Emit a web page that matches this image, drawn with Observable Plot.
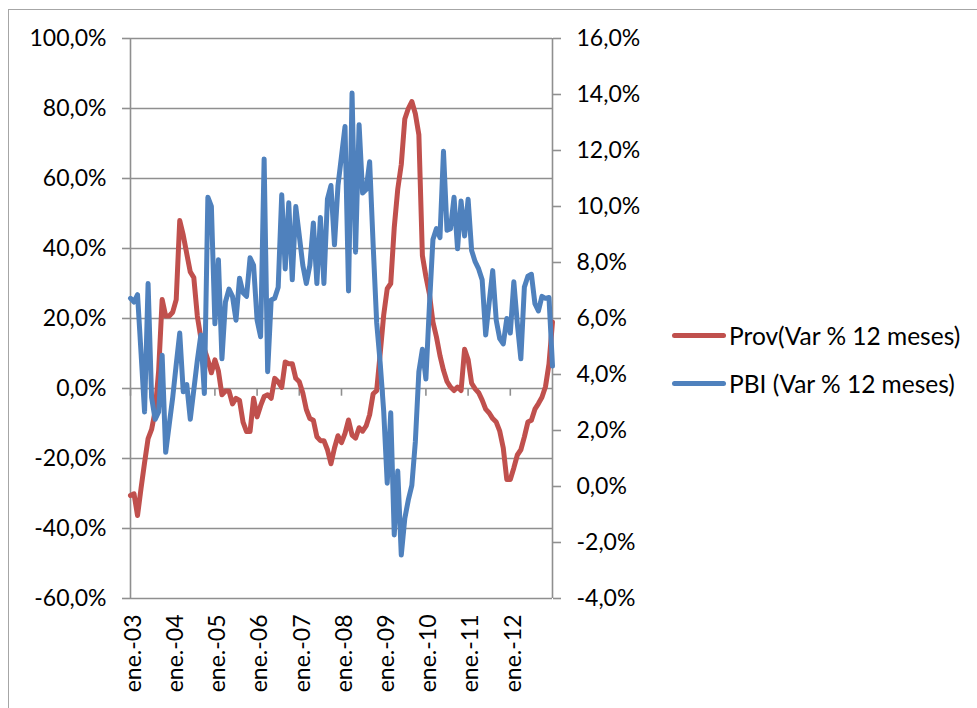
<!DOCTYPE html>
<html>
<head>
<meta charset="utf-8">
<script src="https://cdn.jsdelivr.net/npm/d3@7"></script>
<script src="https://cdn.jsdelivr.net/npm/@observablehq/plot@0.6"></script>
<style>
  html, body { margin: 0; padding: 0; background: #fff; }
  #wrap { position: relative; width: 977px; height: 708px; overflow: hidden; font-family: Lato, "Open Sans", sans-serif; }
  #frame { position: absolute; left: 8px; top: 9px; width: 1200px; height: 1000px; border-left: 1.5px solid #a6a6a6; border-top: 1.5px solid #a6a6a6; }
  #chart { position: absolute; left: 0; top: 0; }
  .leg { position: absolute; left: 672px; display: flex; align-items: center; font-size: 24.5px; color: #000; white-space: nowrap; }
  .leg .sw { width: 54px; height: 5px; border-radius: 3px; margin-right: 3px; }
</style>
</head>
<body>
<div id="wrap">
  <div id="frame"></div>
  <div id="chart"></div>
  <div class="leg" style="top:321px"><div class="sw" style="background:#C0504D"></div><span>Prov(Var % 12 meses)</span></div>
  <div class="leg" style="top:369px"><div class="sw" style="background:#4F81BD"></div><span>PBI (Var % 12 meses)</span></div>
</div>
<script>
// X tick labels (one every 12 months, starting ene.-03)
const tickLabels = ["ene.-03","ene.-04","ene.-05","ene.-06","ene.-07","ene.-08","ene.-09","ene.-10","ene.-11","ene.-12"];

// Prov (Var % 12 meses), left axis, monthly from ene.-03
const prov = [
  -30.6,-30.1,-36.3,-28.5,-21.2,-14.3,-11.7,-6.5,5.0,25.4,
  20.7,20.7,21.8,25.4,48.0,43.8,38.5,33.3,31.7,20.7,
  14.5,11.3,8.2,4.5,8.2,5.0,-1.8,-0.7,-0.7,-4.4,
  -2.8,-3.4,-9.6,-12.3,-12.3,-2.8,-8.1,-4.9,-2.3,-1.8,
  -2.8,2.9,1.9,0.3,7.6,7.1,7.1,2.9,1.9,-1.3,
  -6.0,-8.6,-9.1,-13.8,-14.9,-14.9,-17.5,-21.5,-17.0,-13.5,
  -15.5,-12.8,-9.0,-13.3,-14.2,-11.2,-12.2,-10.7,-7.5,-1.5,
  -0.6,10.0,21.0,28.5,30.0,46.0,57.0,64.0,77.0,80.0,
  82.0,78.5,72.5,38.0,32.0,27.0,19.0,14.7,9.4,5.2,
  2.0,0.4,-0.6,0.4,-0.6,11.2,8.3,1.5,-0.1,-1.2,
  -3.3,-5.9,-7.0,-8.6,-9.6,-12.2,-17.0,-26.0,-26.0,-22.7,
  -19.0,-17.5,-13.8,-9.6,-9.1,-5.9,-4.3,-2.5,0.5,7.0,
  19.0
];

// PBI (Var % 12 meses), right axis, monthly from ene.-03
const pbi = [
  6.72,6.59,6.85,4.76,2.66,7.25,3.18,2.40,2.66,4.69,
  1.22,2.20,3.18,4.36,5.48,3.38,3.64,2.40,3.45,4.50,
  5.41,3.32,10.33,10.0,5.81,8.10,4.56,6.59,7.05,6.79,
  5.94,7.44,6.92,6.79,8.17,7.90,5.94,5.35,11.70,4.10,
  6.66,6.72,7.12,10.42,7.77,10.13,7.38,10.0,8.95,7.90,
  7.25,7.90,9.41,7.25,9.61,7.25,10.26,10.75,8.63,10.75,
  11.80,12.86,6.98,14.05,8.37,12.92,10.48,10.61,11.60,8.63,
  5.86,4.41,2.69,0.12,2.63,-1.73,0.55,-2.45,-1.14,-0.48,
  0.04,1.60,4.10,4.90,3.84,6.46,8.82,9.21,8.89,11.97,
  9.15,9.21,10.33,8.49,10.20,8.95,10.26,8.43,8.03,7.77,
  7.38,5.41,6.59,7.71,5.94,5.28,5.09,6.00,5.48,7.31,
  5.81,4.56,7.12,7.51,7.58,6.53,6.27,6.79,6.72,6.75,
  4.30
];

// Axis tick values
const leftTicks = [-60,-40,-20,0,20,40,60,80,100];
const rightTicks = [-4,-2,0,2,4,6,8,10,12,14,16];

// Right axis domain [-4,16] mapped onto left axis domain [-60,100]
const leftDomain = [-60, 100];
const rightDomain = [-4, 16];
const r2l = d3.scaleLinear().domain(rightDomain).range(leftDomain);

const fmtPct = v => v.toFixed(1).replace(".", ",") + "%";

const provData = prov.map((v, i) => ({i, v}));
const pbiData = pbi.map((v, i) => ({i, v: r2l(v)}));
const tickIdx = tickLabels.map((_, k) => k * 12);
const lastIdx = prov.length - 1;

const grid = "#8f8f8f";
const chart = Plot.plot({
  width: 977,
  height: 708,
  marginLeft: 130,
  marginRight: 425,
  marginTop: 38,
  marginBottom: 110,
  x: {domain: [0, lastIdx]},
  y: {domain: leftDomain},
  style: {fontFamily: "Lato, 'Open Sans', sans-serif", fontSize: "23px", color: "#000", background: "transparent", overflow: "visible"},
  marks: [
    Plot.ruleY(leftTicks, {stroke: grid, strokeWidth: 1.6}),
    Plot.ruleX([0, lastIdx], {stroke: grid, strokeWidth: 1.6}),
    Plot.ruleX(tickIdx, {x: d => d, y1: 0, y2: -2.2, stroke: grid, strokeWidth: 1.6}),
    Plot.axisY(leftTicks, {anchor: "left", tickSize: 8, tickPadding: 16, tickFormat: fmtPct, stroke: grid, strokeWidth: 1.6, fill: "#000", fontSize: 23, label: null}),
    Plot.axisY(rightTicks.map(r2l), {anchor: "right", tickSize: 8, tickPadding: 16, tickFormat: d => fmtPct(r2l.invert(d)), stroke: grid, strokeWidth: 1.6, fill: "#000", fontSize: 23, label: null}),
    Plot.axisX(tickIdx, {anchor: "bottom", tickSize: 0, tickPadding: 16, tickRotate: -90, dx: 3, tickFormat: d => tickLabels[tickIdx.indexOf(d)], fill: "#000", fontSize: 23, label: null}),
    Plot.line(provData, {x: "i", y: "v", stroke: "#C0504D", strokeWidth: 5, strokeLinejoin: "round", strokeLinecap: "round"}),
    Plot.line(pbiData, {x: "i", y: "v", stroke: "#4F81BD", strokeWidth: 5, strokeLinejoin: "round", strokeLinecap: "round"})
  ]
});
document.getElementById("chart").appendChild(chart);
</script>
</body>
</html>
